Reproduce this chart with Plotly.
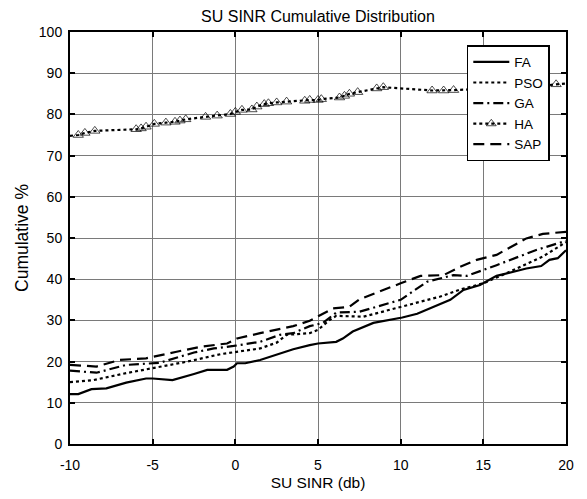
import plotly.graph_objects as go

fa_x = [-10, -9.5, -8.7, -7.8, -6.6, -5.4, -5.0, -3.8, -2.5, -1.7, -0.5, -0.1, 0.1, 0.6, 1.5, 3.5, 4.5, 5.0, 6.1, 6.5, 7.1, 8.35, 10.1, 11.0, 13.0, 13.8, 14.8, 15.8, 17.6, 18.5, 19.0, 19.5, 20.0]
fa_y = [12.1, 12.1, 13.3, 13.5, 14.9, 15.9, 15.9, 15.5, 17.0, 18.0, 18.0, 18.8, 19.6, 19.6, 20.4, 23.0, 24.0, 24.4, 24.8, 25.6, 27.3, 29.4, 30.7, 31.6, 35.0, 37.4, 38.6, 40.8, 42.6, 43.2, 44.7, 45.1, 47.0]

pso_x = [-10, -8.6, -6.6, -5.0, -2.9, -0.9, 0.1, 1.5, 2.5, 3.1, 4.5, 5.0, 5.7, 6.1, 7.75, 10.2, 12.4, 13.6, 15.0, 16.6, 18.6, 20.0]
pso_y = [15.0, 15.5, 17.2, 18.4, 20.0, 21.8, 22.4, 23.2, 24.6, 26.5, 26.9, 27.7, 30.1, 31.1, 30.9, 33.5, 35.8, 37.5, 39.0, 41.8, 45.5, 49.0]

ga_x = [-10, -8.4, -6.6, -5.4, -4.6, -2.5, -1.3, -0.1, 1.5, 2.7, 3.5, 4.5, 5.3, 6.1, 7.5, 10.0, 11.6, 13.2, 14.0, 15.8, 18.2, 20.0]
ga_y = [17.8, 17.3, 19.2, 19.4, 19.7, 22.2, 23.2, 23.8, 24.8, 26.5, 26.9, 28.6, 29.4, 31.9, 32.1, 35.0, 39.4, 41.0, 40.8, 43.4, 47.1, 49.3]

sap_x = [-10, -8.4, -7.0, -5.4, -3.55, -2.1, -0.5, 0.1, 1.5, 3.5, 4.5, 5.1, 5.9, 6.9, 7.5, 10.0, 11.2, 12.6, 13.6, 14.6, 15.8, 17.6, 18.6, 20.0]
sap_y = [19.2, 18.8, 20.4, 20.8, 22.4, 23.6, 24.4, 25.6, 26.9, 28.6, 29.9, 31.1, 32.9, 33.3, 35.1, 39.0, 40.8, 41.0, 43.0, 44.7, 45.9, 49.9, 51.0, 51.5]

ha_x = [-10, -9.5, -9.1, -8.5, -6.0, -5.7, -5.4, -4.9, -4.2, -3.65, -3.35, -3.0, -1.8, -1.1, -0.3, 0.0, 0.4, 1.0, 1.3, 1.75, 2.0, 2.5, 3.1, 4.2, 4.5, 5.0, 5.2, 6.3, 6.6, 6.9, 7.4, 8.55, 8.95, 11.9, 12.6, 13.2, 15.0, 16.5, 18.0, 18.7, 19.4, 20.0]
ha_y = [74.8, 75.0, 75.5, 76.0, 76.4, 76.6, 77.0, 77.7, 78.0, 78.2, 78.5, 78.8, 79.4, 79.7, 80.1, 80.6, 81.1, 81.2, 81.9, 82.5, 82.7, 82.9, 83.1, 83.3, 83.5, 83.5, 83.7, 84.1, 84.5, 85.0, 85.4, 86.3, 86.6, 85.8, 85.8, 85.9, 86.2, 86.5, 86.8, 87.0, 87.3, 87.5]
ha_marker_size = [0] + [9] * (len(ha_x) - 2) + [0]

x_tickvals = [-10, -5, 0, 5, 10, 15, 20]
x_ticktext = ["-10", "-5", "0", "5", "10", "15", "20"]
y_tickvals = [0, 10, 20, 30, 40, 50, 60, 70, 80, 90, 100]

fig = go.Figure()
fig.add_trace(go.Scatter(x=fa_x, y=fa_y, name="FA", mode="lines",
                         line=dict(color="black", width=2.2, dash="solid")))
fig.add_trace(go.Scatter(x=pso_x, y=pso_y, name="PSO", mode="lines",
                         line=dict(color="black", width=2.2, dash="dot")))
fig.add_trace(go.Scatter(x=ga_x, y=ga_y, name="GA", mode="lines",
                         line=dict(color="black", width=2.2, dash="10px,4px,2px,4px")))
fig.add_trace(go.Scatter(x=ha_x, y=ha_y, name="HA", mode="lines+markers",
                         line=dict(color="black", width=2.2, dash="dot"),
                         marker=dict(symbol="triangle-up-open", size=ha_marker_size,
                                     color="black", line=dict(width=1))))
fig.add_trace(go.Scatter(x=sap_x, y=sap_y, name="SAP", mode="lines",
                         line=dict(color="black", width=2.2, dash="11px,6px")))

axis_common = dict(showgrid=True, gridcolor="#7a7a7a", gridwidth=1,
                   showline=True, linecolor="black", linewidth=2, mirror="ticks",
                   ticks="inside", ticklen=5, tickwidth=2, tickcolor="black",
                   zeroline=False, tickfont=dict(size=14, color="black"))

fig.update_layout(
    width=571, height=483,
    margin=dict(l=62, r=13, t=24, b=47, autoexpand=False),
    paper_bgcolor="white", plot_bgcolor="white",
    font=dict(family="Liberation Sans, Arial, sans-serif", color="black"),
    title=dict(text="SU SINR Cumulative Distribution", x=0.5, xref="paper", xanchor="center",
               y=1 - 8 / 483, yref="container", yanchor="middle",
               font=dict(size=16, color="black")),
    xaxis=dict(range=[-10, 20], tickvals=x_tickvals, ticktext=x_ticktext,
               ticklabelstandoff=7,
               title=dict(text="SU SINR (db)", font=dict(size=15.5), standoff=5), **axis_common),
    yaxis=dict(range=[0, 100], tickvals=y_tickvals, ticklabelstandoff=3,
               title=dict(text="Cumulative %", font=dict(size=17.5), standoff=6), **axis_common),
    legend=dict(x=0.80, y=0.968, xanchor="left", yanchor="top",
                bgcolor="white", bordercolor="black", borderwidth=1.5,
                itemwidth=36,
                font=dict(size=13.5, color="black"), tracegroupgap=0),
    showlegend=True,
)

fig.write_html("out.html")
